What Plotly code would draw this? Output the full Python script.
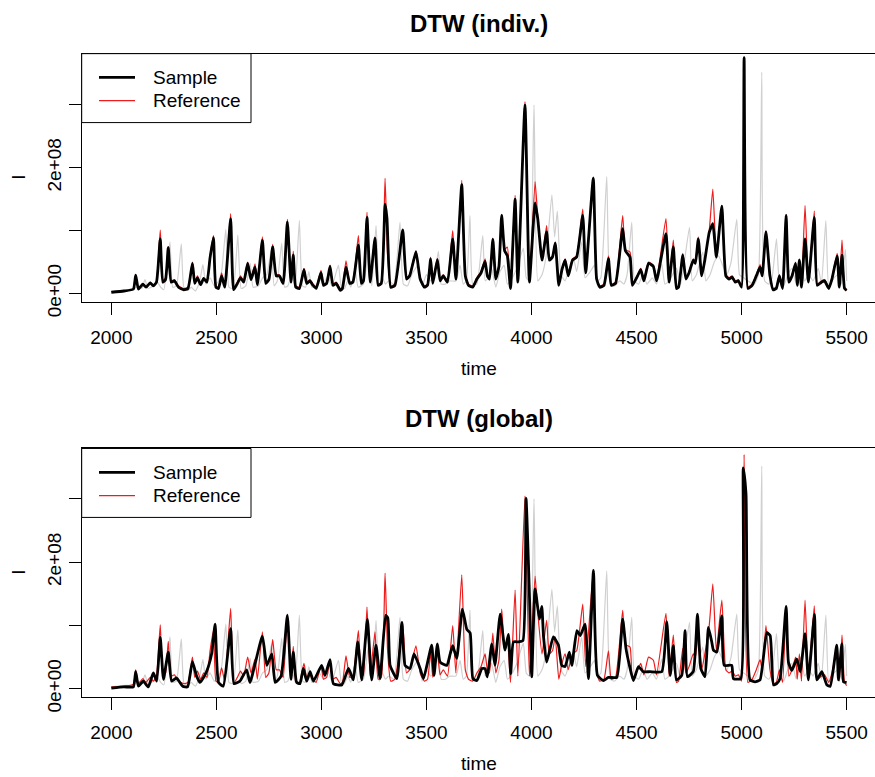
import plotly.graph_objects as go

# Intensity values in units of 1e6, as (time, I) vertices.
reference = [
    (2000, 3), (2060, 4), (2105, 7), (2116, 30), (2129, 8), (2150, 16), (2165, 10), (2185, 18),
    (2200, 12), (2215, 20), (2233, 101), (2245, 20), (2258, 25), (2271, 75), (2285, 20),
    (2300, 22), (2320, 12), (2345, 8), (2365, 10), (2386, 50), (2397, 18), (2410, 28),
    (2425, 15), (2440, 25), (2455, 18), (2470, 60), (2486, 92), (2498, 12), (2510, 10),
    (2525, 33), (2540, 12), (2568, 127), (2582, 8), (2600, 18), (2615, 28), (2630, 20),
    (2649, 50), (2665, 25), (2684, 47), (2695, 15), (2719, 90), (2735, 18), (2750, 25),
    (2768, 78), (2785, 30), (2800, 30), (2818, 18), (2838, 118), (2855, 20), (2866, 67),
    (2878, 12), (2895, 10), (2917, 40), (2930, 18), (2945, 22), (2960, 15), (2975, 10),
    (2998, 37), (3010, 15), (3025, 18), (3041, 45), (3055, 15), (3070, 18), (3090, 8),
    (3100, 10), (3117, 52), (3135, 18), (3150, 20), (3176, 92), (3190, 18), (3200, 22),
    (3217, 129), (3232, 20), (3255, 90), (3270, 15), (3285, 18), (3303, 183), (3315, 60),
    (3330, 12), (3350, 15), (3387, 102), (3405, 25), (3420, 30), (3450, 68), (3470, 25),
    (3490, 12), (3505, 15), (3520, 58), (3530, 18), (3552, 56), (3565, 22), (3580, 30),
    (3600, 20), (3625, 100), (3640, 25), (3668, 180), (3685, 30), (3700, 15), (3720, 12),
    (3740, 25), (3760, 35), (3779, 55), (3790, 30), (3800, 25), (3816, 88), (3830, 25),
    (3845, 45), (3858, 126), (3872, 70), (3885, 74), (3900, 10), (3922, 156), (3935, 20),
    (3969, 305), (3990, 20), (4017, 178), (4030, 120), (4050, 55), (4072, 108), (4085, 55),
    (4100, 60), (4113, 82), (4130, 15), (4145, 40), (4160, 55), (4175, 30), (4195, 55),
    (4215, 60), (4244, 134), (4258, 35), (4294, 186), (4310, 25), (4325, 12), (4345, 15),
    (4366, 60), (4380, 15), (4400, 18), (4434, 124), (4447, 70), (4469, 66), (4480, 15),
    (4505, 30), (4520, 40), (4535, 22), (4557, 50), (4580, 45), (4595, 22), (4640, 119),
    (4655, 20), (4675, 85), (4690, 10), (4700, 12), (4720, 64), (4735, 25), (4750, 35),
    (4770, 55), (4780, 50), (4794, 90), (4810, 30), (4825, 55), (4846, 100), (4863, 166),
    (4880, 60), (4906, 140), (4925, 30), (4940, 25), (4955, 28), (4970, 20), (4985, 22),
    (5000, 12), (5012, 370), (5030, 10), (5050, 15), (5070, 30), (5088, 46), (5098, 30),
    (5116, 100), (5135, 30), (5150, 8), (5165, 10), (5180, 30), (5195, 10), (5212, 126),
    (5225, 20), (5240, 30), (5257, 50), (5265, 15), (5275, 55), (5285, 12), (5302, 140),
    (5318, 20), (5346, 131), (5360, 15), (5380, 20), (5395, 22), (5415, 10), (5430, 25),
    (5455, 64), (5465, 12), (5478, 85), (5490, 10), (5500, 5),
]

# Unaligned sample (drawn in light grey in both panels)
sample_raw = [
    (2000, 3), (2050, 5), (2100, 6), (2130, 12), (2145, 8), (2160, 22), (2175, 8), (2200, 12),
    (2215, 20), (2235, 10), (2250, 6), (2279, 82), (2292, 10), (2310, 12), (2333, 79),
    (2345, 10), (2365, 5), (2380, 10), (2400, 4), (2420, 18), (2436, 46), (2450, 15),
    (2470, 25), (2490, 12), (2510, 20), (2525, 35), (2545, 102), (2560, 10), (2580, 8),
    (2602, 93), (2618, 8), (2640, 12), (2661, 48), (2675, 10), (2700, 12), (2720, 25),
    (2740, 30), (2762, 70), (2775, 12), (2790, 20), (2811, 80), (2825, 10), (2840, 12),
    (2860, 30), (2875, 10), (2895, 116), (2910, 12), (2925, 10), (2940, 35), (2955, 10),
    (2975, 12), (2990, 25), (3010, 15), (3030, 28), (3050, 12), (3081, 45), (3095, 10),
    (3110, 8), (3125, 20), (3140, 10), (3160, 40), (3175, 10), (3200, 15), (3225, 70),
    (3240, 12), (3260, 108), (3275, 12), (3290, 25), (3305, 15), (3320, 20), (3345, 15),
    (3374, 113), (3390, 15), (3410, 12), (3430, 30), (3460, 45), (3480, 12), (3500, 30),
    (3520, 20), (3535, 25), (3557, 67), (3570, 15), (3590, 15), (3610, 20), (3640, 20),
    (3660, 45), (3675, 15), (3690, 20), (3707, 124), (3720, 15), (3740, 15), (3768, 92),
    (3780, 20), (3795, 25), (3810, 40), (3830, 10), (3850, 35), (3870, 45), (3885, 15),
    (3900, 20), (3930, 40), (3961, 72), (3975, 25), (3990, 20), (4012, 300), (4030, 20),
    (4050, 30), (4070, 60), (4097, 157), (4110, 90), (4123, 131), (4140, 30), (4160, 20),
    (4180, 40), (4200, 55), (4215, 35), (4239, 82), (4255, 25), (4280, 35), (4300, 45),
    (4315, 20), (4330, 25), (4358, 186), (4375, 15), (4395, 12), (4420, 20), (4440, 15),
    (4455, 30), (4477, 113), (4490, 20), (4510, 15), (4530, 30), (4550, 15), (4575, 25),
    (4595, 15), (4620, 47), (4635, 15), (4655, 20), (4690, 40), (4710, 15), (4752, 105),
    (4765, 20), (4785, 30), (4815, 66), (4830, 20), (4850, 30), (4870, 50), (4890, 60),
    (4910, 45), (4930, 30), (4950, 50), (4977, 118), (4990, 30), (5010, 25), (5030, 20),
    (5060, 15), (5080, 30), (5096, 352), (5110, 20), (5130, 15), (5145, 25), (5166, 87),
    (5180, 20), (5200, 12), (5220, 30), (5240, 40), (5260, 15), (5280, 50), (5300, 20),
    (5320, 30), (5340, 20), (5365, 40), (5380, 15), (5401, 116), (5415, 10), (5440, 25),
    (5460, 30), (5475, 15), (5494, 70), (5500, 20),
]

# Sample after individual DTW alignment
sample_indiv = [
    (2000, 2), (2060, 4), (2105, 7), (2116, 29), (2129, 7), (2150, 15), (2165, 10), (2185, 17),
    (2200, 12), (2215, 18), (2233, 87), (2245, 18), (2258, 22), (2271, 73), (2285, 18),
    (2300, 20), (2320, 10), (2345, 6), (2365, 8), (2386, 48), (2397, 16), (2410, 25),
    (2425, 14), (2440, 24), (2455, 18), (2470, 57), (2486, 89), (2498, 10), (2510, 8),
    (2525, 28), (2540, 10), (2568, 119), (2582, 6), (2600, 16), (2615, 25), (2630, 18),
    (2649, 48), (2665, 22), (2684, 42), (2695, 14), (2719, 85), (2735, 16), (2750, 22),
    (2768, 74), (2785, 28), (2800, 28), (2818, 16), (2838, 114), (2855, 18), (2866, 61),
    (2878, 10), (2895, 8), (2917, 38), (2930, 16), (2945, 20), (2960, 13), (2975, 8),
    (2998, 33), (3010, 13), (3025, 16), (3041, 43), (3055, 13), (3070, 16), (3090, 5),
    (3100, 8), (3117, 42), (3135, 16), (3150, 18), (3176, 77), (3190, 16), (3200, 20),
    (3217, 121), (3232, 18), (3255, 88), (3270, 13), (3285, 16), (3303, 142), (3312, 120),
    (3330, 10), (3350, 13), (3387, 101), (3405, 23), (3420, 28), (3450, 66), (3470, 23),
    (3490, 10), (3505, 13), (3520, 55), (3530, 16), (3552, 54), (3565, 20), (3580, 28),
    (3600, 18), (3625, 87), (3640, 23), (3668, 173), (3685, 28), (3700, 13), (3720, 10),
    (3740, 23), (3760, 33), (3779, 51), (3790, 28), (3800, 23), (3816, 86), (3830, 23),
    (3845, 43), (3858, 124), (3872, 68), (3885, 60), (3900, 8), (3922, 150), (3935, 18),
    (3969, 300), (3990, 18), (4017, 144), (4030, 118), (4050, 53), (4072, 98), (4085, 53),
    (4100, 58), (4113, 80), (4130, 13), (4145, 38), (4160, 53), (4175, 28), (4195, 53),
    (4215, 58), (4244, 124), (4258, 33), (4294, 183), (4310, 23), (4325, 10), (4345, 13),
    (4366, 56), (4380, 13), (4400, 16), (4434, 103), (4447, 68), (4469, 58), (4480, 13),
    (4505, 28), (4520, 38), (4535, 20), (4557, 48), (4580, 43), (4595, 20), (4640, 95),
    (4655, 18), (4675, 74), (4690, 8), (4700, 10), (4720, 61), (4735, 23), (4750, 33),
    (4770, 53), (4780, 48), (4794, 87), (4810, 28), (4825, 53), (4846, 97), (4863, 111),
    (4880, 58), (4906, 139), (4925, 28), (4940, 23), (4955, 26), (4970, 18), (4985, 20),
    (5000, 10), (5012, 375), (5030, 8), (5050, 13), (5070, 28), (5088, 42), (5098, 28),
    (5116, 98), (5135, 28), (5150, 6), (5165, 8), (5180, 28), (5195, 8), (5212, 124),
    (5225, 18), (5240, 28), (5257, 48), (5265, 13), (5275, 53), (5285, 10), (5302, 87),
    (5318, 18), (5346, 121), (5360, 13), (5380, 18), (5395, 20), (5415, 8), (5430, 23),
    (5455, 60), (5465, 10), (5478, 61), (5490, 8), (5500, 5),
]

# Sample after global DTW alignment
sample_global = [
    (2000, 1), (2060, 3), (2105, 3), (2116, 27), (2129, 4), (2152, 12), (2176, 3), (2200, 25),
    (2216, 12), (2233, 81), (2248, 15), (2271, 58), (2287, 12), (2310, 17), (2340, 4),
    (2363, 3), (2386, 43), (2406, 20), (2422, 10), (2446, 22), (2462, 35), (2478, 56),
    (2494, 102), (2510, 10), (2533, 4), (2568, 95), (2584, 8), (2612, 12), (2644, 30),
    (2660, 10), (2719, 83), (2740, 37), (2764, 55), (2780, 10), (2808, 20), (2838, 116),
    (2855, 15), (2866, 58), (2882, 10), (2898, 8), (2914, 32), (2930, 12), (2946, 27),
    (2962, 12), (3001, 37), (3017, 21), (3041, 46), (3057, 8), (3097, 6), (3129, 32),
    (3152, 14), (3173, 74), (3192, 14), (3219, 110), (3239, 14), (3260, 69), (3279, 16),
    (3306, 116), (3316, 112), (3327, 37), (3359, 16), (3383, 105), (3398, 37), (3422, 32),
    (3441, 55), (3470, 32), (3486, 16), (3525, 69), (3536, 21), (3552, 71), (3565, 42),
    (3597, 37), (3613, 55), (3625, 68), (3644, 48), (3671, 126), (3692, 94), (3708, 88),
    (3721, 16), (3740, 13), (3764, 32), (3779, 32), (3790, 19), (3811, 71), (3826, 37),
    (3851, 118), (3874, 61), (3890, 86), (3901, 24), (3914, 74), (3938, 74), (3959, 76),
    (3974, 301), (3990, 150), (4001, 19), (4017, 158), (4038, 110), (4049, 130), (4057, 83),
    (4072, 42), (4104, 82), (4128, 69), (4144, 37), (4160, 35), (4180, 58), (4192, 37),
    (4216, 92), (4232, 84), (4255, 102), (4271, 16), (4295, 187), (4314, 21), (4342, 13),
    (4366, 18), (4406, 18), (4434, 110), (4450, 63), (4466, 37), (4485, 13), (4509, 35),
    (4532, 27), (4564, 27), (4620, 27), (4644, 106), (4660, 21), (4675, 68), (4690, 14),
    (4715, 21), (4731, 92), (4742, 19), (4770, 27), (4790, 118), (4806, 32), (4826, 19),
    (4842, 97), (4858, 74), (4866, 61), (4882, 58), (4906, 115), (4917, 37), (4953, 37),
    (4961, 16), (4996, 16), (5008, 349), (5021, 308), (5040, 14), (5064, 11), (5088, 14),
    (5120, 89), (5136, 84), (5152, 6), (5167, 8), (5183, 16), (5212, 130), (5223, 42),
    (5239, 29), (5263, 47), (5279, 27), (5302, 87), (5318, 14), (5347, 118), (5358, 14),
    (5382, 27), (5406, 6), (5422, 4), (5453, 69), (5461, 14), (5477, 71), (5485, 11),
    (5500, 10),
]

panel_titles = ["DTW (indiv.)", "DTW (global)"]
x_ticks = [2000, 2500, 3000, 3500, 4000, 4500, 5000, 5500]
y_ticks = [0, 1e8, 2e8, 3e8]
y_tick_text = ["0e+00", "", "2e+08", ""]
legend_labels = ["Sample", "Reference"]

SCALE = 1e6
W, H = 875, 777
FONT = "Liberation Sans, Arial, Helvetica, sans-serif"
GREY = "#D0D0D0"
RED = "#EE1C1C"


def fx(px):
    return px / W


def fy(py):
    return 1 - py / H


def unzip(pairs):
    t, v = zip(*pairs)
    return list(t), [val * SCALE for val in v]


# plot-box geometry of the two panels (pixels)
panels = [
    dict(top=54.7, bottom=307.7, yrange=[-0.131e8, 3.813e8], aligned=sample_indiv),
    dict(top=457.3, bottom=710.7, yrange=[-0.130e8, 3.798e8], aligned=sample_global),
]
left_px = 81.7
xrange_ = [1859, 5635]

fig = go.Figure()
annotations = []
shapes = []

for i, p in enumerate(panels):
    sfx = "" if i == 0 else str(i + 1)
    xa, ya = "x" + sfx, "y" + sfx
    for pairs, color, width in [(sample_raw, GREY, 1.2), (reference, RED, 1.2), (p["aligned"], "black", 2.8)]:
        t, v = unzip(pairs)
        fig.add_trace(go.Scatter(x=t, y=v, mode="lines", xaxis=xa, yaxis=ya,
                                 line=dict(color=color, width=width, shape="spline", smoothing=0.45),
                                 showlegend=False, hoverinfo="skip"))
    axis_common = dict(showgrid=False, zeroline=False, showline=True, linecolor="black",
                       linewidth=1, ticks="outside", ticklen=12, tickwidth=1, tickcolor="black",
                       tickfont=dict(family=FONT, size=19, color="black"))
    fig.update_layout(**{
        "xaxis" + sfx: dict(domain=[fx(left_px), 1.0], range=xrange_, tickvals=x_ticks,
                            ticktext=[str(v) for v in x_ticks], mirror=True,
                            anchor=ya, ticklabelstandoff=6, **axis_common),
        "yaxis" + sfx: dict(domain=[fy(p["bottom"]), fy(p["top"])], range=p["yrange"],
                            tickvals=y_ticks, ticktext=y_tick_text, tickangle=-90,
                            anchor=xa, ticklabelstandoff=0, **axis_common),
    })
    mid_y = (p["top"] + p["bottom"]) / 2
    mid_x = (left_px + 877) / 2
    annotations += [
        dict(text="<b>%s</b>" % panel_titles[i], x=fx(mid_x), y=fy(p["top"] - 31),
             xref="paper", yref="paper", showarrow=False, font=dict(family=FONT, size=24, color="black"),
             xanchor="center", yanchor="middle"),
        dict(text="time", x=fx(mid_x), y=fy(p["bottom"] + 68), xref="paper", yref="paper",
             showarrow=False, font=dict(family=FONT, size=19, color="black"),
             xanchor="center", yanchor="middle"),
        dict(text="I", x=fx(19), y=fy(mid_y), xref="paper", yref="paper", textangle=-90,
             showarrow=False, font=dict(family=FONT, size=19, color="black"),
             xanchor="center", yanchor="middle"),
    ]
    # legend box
    top = p["top"]
    shapes.append(dict(type="rect", xref="paper", yref="paper", x0=fx(left_px), x1=fx(251),
                       y0=fy(top + 70.3), y1=fy(top), line=dict(color="black", width=1),
                       fillcolor="white", layer="above"))
    for j, (label, color, width) in enumerate(zip(legend_labels, ["black", RED], [2.8, 1.2])):
        ly = top + 24.3 + j * 23.7
        shapes.append(dict(type="line", xref="paper", yref="paper", x0=fx(99), x1=fx(135),
                           y0=fy(ly), y1=fy(ly), line=dict(color=color, width=width), layer="above"))
        annotations.append(dict(text=label, x=fx(151), y=fy(ly), xref="paper", yref="paper",
                                showarrow=False, xanchor="left", yanchor="middle",
                                font=dict(family=FONT, size=19, color="black")))

fig.update_layout(width=W, height=H, margin=dict(l=0, r=0, t=0, b=0, pad=0),
                  paper_bgcolor="white", plot_bgcolor="white", showlegend=False,
                  annotations=annotations, shapes=shapes, font=dict(family=FONT))

fig.write_html("out.html")
